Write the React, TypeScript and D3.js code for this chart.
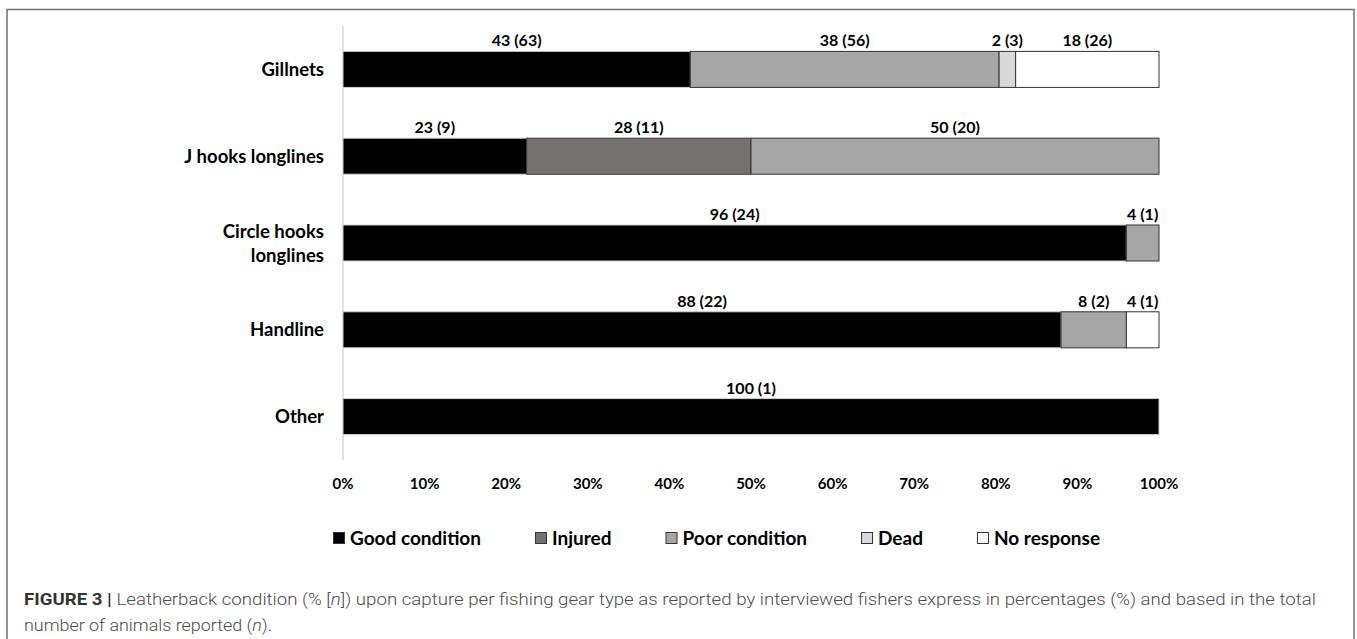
import React, { useEffect, useRef } from "react";
import * as d3 from "d3";

const categories = ["Gillnets", "J hooks longlines", "Circle hooks longlines", "Handline", "Other"];
const categoryLines = [["Gillnets"], ["J hooks longlines"], ["Circle hooks", "longlines"], ["Handline"], ["Other"]];
const conditions = ["Good condition", "Injured", "Poor condition", "Dead", "No response"];
const goodCounts = [63, 9, 24, 22, 1];
const injuredCounts = [0, 11, 0, 0, 0];
const poorCounts = [56, 20, 1, 2, 0];
const deadCounts = [3, 0, 0, 0, 0];
const noResponseCounts = [26, 0, 0, 1, 0];
const tickValues = [0, 10, 20, 30, 40, 50, 60, 70, 80, 90, 100];
const conditionColors = ["#000000", "#767171", "#a6a6a6", "#d9d9d9", "#ffffff"];

const W = 1357;
const H = 639;

export default function App() {
  const ref = useRef<SVGSVGElement>(null);

  useEffect(() => {
    const svg = d3.select(ref.current);
    svg.selectAll("*").remove();

    const countsBy = [goodCounts, injuredCounts, poorCounts, deadCounts, noResponseCounts];
    const rows = categories.map((c, i) => {
      const total = countsBy.reduce((s, arr) => s + arr[i], 0);
      const r: any = { category: c };
      conditions.forEach((k, j) => {
        r[k] = (countsBy[j][i] / total) * 100;
        r[k + "_n"] = countsBy[j][i];
      });
      return r;
    });

    const stack = d3.stack<any>().keys(conditions);
    const series = stack(rows);

    const x = d3.scaleLinear().domain([0, 100]).range([343, 1159]);
    const y = d3.scaleBand<string>().domain(categories).range([26, 460]).paddingInner(0.585).paddingOuter(0.2925);
    const color = d3.scaleOrdinal<string, string>().domain(conditions).range(conditionColors);

    const boldFont = "Lato, 'Open Sans', sans-serif";

    // outer frame
    svg.append("rect")
      .attr("x", 7).attr("y", 9.5).attr("width", 1347).attr("height", 700)
      .attr("fill", "#fff").attr("stroke", "#6f6f6f").attr("stroke-width", 1.5);

    // axis line
    svg.append("line")
      .attr("x1", x(0)).attr("x2", x(0)).attr("y1", 26).attr("y2", 460)
      .attr("stroke", "#d9d9d9").attr("stroke-width", 1.5);

    // bars
    series.forEach((s) => {
      const g = svg.append("g");
      s.forEach((d, i) => {
        const w = x(d[1]) - x(d[0]);
        if (w <= 0) return;
        g.append("rect")
          .attr("x", x(d[0]))
          .attr("y", y(categories[i])!)
          .attr("width", w)
          .attr("height", y.bandwidth())
          .attr("fill", color(s.key))
          .attr("stroke", s.key === "Good condition" ? "#d0d0d0" : "#333")
          .attr("stroke-width", 1);
      });
    });

    // value labels
    series.forEach((s) => {
      s.forEach((d, i) => {
        const pct = d[1] - d[0];
        if (pct <= 0) return;
        const n = (d.data as any)[s.key + "_n"];
        svg.append("text")
          .attr("x", (x(d[0]) + x(d[1])) / 2)
          .attr("y", y(categories[i])! - 5)
          .attr("text-anchor", "middle")
          .attr("font-family", boldFont)
          .attr("font-weight", 700)
          .attr("font-size", 16)
          .attr("fill", "#000")
          .text(`${Math.round(pct)} (${n})`);
      });
    });

    // category labels
    categories.forEach((c, i) => {
      const lines = categoryLines[i];
      const cy = y(c)! + y.bandwidth() / 2;
      const lh = 24;
      const t = svg.append("text")
        .attr("text-anchor", "end")
        .attr("font-family", boldFont)
        .attr("font-weight", 700)
        .attr("font-size", 18.5)
        .attr("fill", "#000");
      lines.forEach((ln, k) => {
        t.append("tspan")
          .attr("x", 324)
          .attr("y", cy + 6.5 + (k - (lines.length - 1) / 2) * lh)
          .text(ln);
      });
    });

    // x tick labels
    tickValues.forEach((v) => {
      svg.append("text")
        .attr("x", x(v))
        .attr("y", 488.5)
        .attr("text-anchor", "middle")
        .attr("font-family", boldFont)
        .attr("font-weight", 700)
        .attr("font-size", 15)
        .attr("fill", "#000")
        .text(`${v}%`);
    });

    // legend
    let lx = 333;
    conditions.forEach((c) => {
      svg.append("rect")
        .attr("x", lx + 0.5).attr("y", 532.5).attr("width", 11).attr("height", 11)
        .attr("fill", color(c)).attr("stroke", "#333").attr("stroke-width", 1);
      const t = svg.append("text")
        .attr("x", lx + 17)
        .attr("y", 544.5)
        .attr("font-family", boldFont)
        .attr("font-weight", 700)
        .attr("font-size", 19)
        .attr("fill", "#000")
        .text(c);
      const tw = (t.node() as SVGTextElement).getComputedTextLength();
      lx = lx + 17 + tw + 54;
    });

    // caption
    const capFont = "Roboto, 'Liberation Sans', Arial, sans-serif";
    const c1 = svg.append("text")
      .attr("x", 24).attr("y", 605)
      .attr("font-family", capFont)
      .attr("font-weight", 300)
      .attr("font-size", 17)
      .attr("fill", "#4d4d4d")
      .attr("textLength", 1292)
      .attr("lengthAdjust", "spacingAndGlyphs");
    c1.append("tspan").attr("font-weight", 700).attr("fill", "#333").text("FIGURE 3 | ");
    c1.append("tspan").text("Leatherback condition (% [");
    c1.append("tspan").attr("font-style", "italic").text("n");
    c1.append("tspan").text("]) upon capture per fishing gear type as reported by interviewed fishers express in percentages (%) and based in the total");

    const c2 = svg.append("text")
      .attr("x", 24).attr("y", 631)
      .attr("font-family", capFont)
      .attr("font-weight", 300)
      .attr("font-size", 17)
      .attr("fill", "#4d4d4d")
      .attr("textLength", 248)
      .attr("lengthAdjust", "spacingAndGlyphs");
    c2.append("tspan").text("number of animals reported (");
    c2.append("tspan").attr("font-style", "italic").text("n");
    c2.append("tspan").text(").");
  }, []);

  return (
    <svg
      ref={ref}
      width={W}
      height={H}
      style={{ position: "absolute", left: 0, top: 0, background: "#fff" }}
    />
  );
}
